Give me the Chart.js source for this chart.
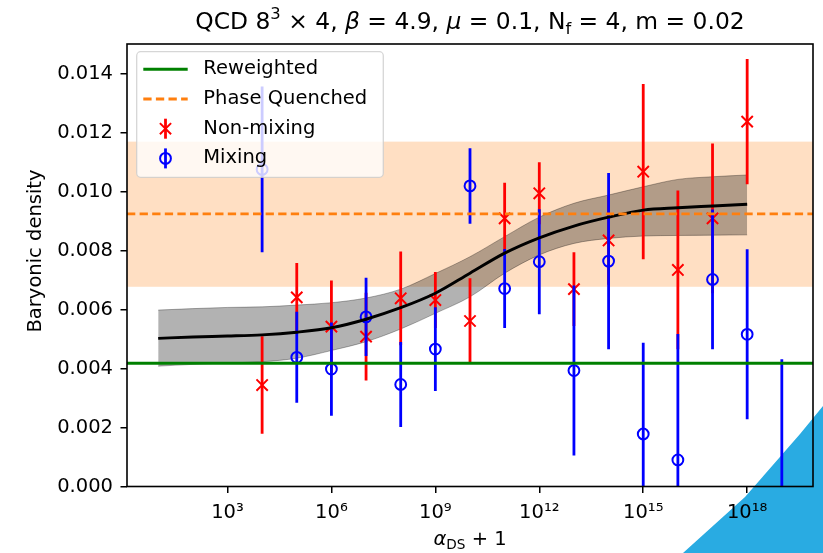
<!DOCTYPE html>
<html lang="en">
<head>
<meta charset="UTF-8" />
<title>Baryonic density</title>
<script src="https://cdn.jsdelivr.net/npm/chart.js"></script>
<style>
    body { margin: 0; background: #fff; }
    .wrap { position: relative; width: 823px; height: 553px; }
    .corner {
        position: absolute; left: 0; top: 0; width: 823px; height: 553px;
        background: #29abe2;
        clip-path: polygon(683px 553px, 745px 497px, 800px 434px, 823px 406px, 823px 553px);
    }
    canvas { position: relative; }
</style>
</head>
<body>
<div class="wrap">
    <div class="corner"></div>
    <canvas id="chart" width="823" height="553"></canvas>
</div>

<script>
    // axis limits (alpha_DS + 1, log scale) and ticks
    const xMin = Math.pow(10, 0.1);
    const xMax = Math.pow(10, 19.9);
    const xTicks = [1e3, 1e6, 1e9, 1e12, 1e15, 1e18];
    const yTicks = [0, 0.002, 0.004, 0.006, 0.008, 0.010, 0.012, 0.014];

    // Non-mixing (red x)
    const nmX = [1e4, 1e5, 1e6, 1e7, 1e8, 1e9, 1e10, 1e11, 1e12, 1e13, 1e14, 1e15, 1e16, 1e17, 1e18];
    const nmY = [0.00344, 0.00641, 0.00542, 0.00508, 0.00638, 0.00632, 0.00561, 0.00909, 0.00994, 0.00669, 0.00834, 0.01067, 0.00734, 0.00909, 0.01237];
    const nmErr = [0.00165, 0.00117, 0.00156, 0.00149, 0.00159, 0.00095, 0.00145, 0.00121, 0.00105, 0.00125, 0.0015, 0.00297, 0.00269, 0.00254, 0.00212];

    // Mixing (blue o)
    const mxX = [1e4, 1e5, 1e6, 1e7, 1e8, 1e9, 1e10, 1e11, 1e12, 1e13, 1e14, 1e15, 1e16, 1e17, 1e18, 1e19];
    const mxY = [0.01075, 0.00438, 0.00398, 0.00575, 0.00346, 0.00466, 0.01019, 0.00671, 0.00762, 0.00393, 0.00764, 0.00178, 0.00090, 0.00702, 0.00516, -0.0004];
    const mxErr = [0.00281, 0.00154, 0.00158, 0.00133, 0.00144, 0.00142, 0.00128, 0.00134, 0.00178, 0.00288, 0.00299, 0.00309, 0.00427, 0.00237, 0.00288, 0.00471];

    // fit curve with its band
    const fitX = [1e1, 1e2, 1e3, 1e4, 1e5, 1e6, 1e7, 1e8, 1e9, 1e10, 1e11, 1e12, 1e13, 1e14, 1e15, 1e16, 1e17, 1e18];
    const fitY = [0.00502, 0.00507, 0.0051, 0.00514, 0.00523, 0.00538, 0.00567, 0.00606, 0.00655, 0.00723, 0.00791, 0.00843, 0.00883, 0.00913, 0.00937, 0.00945, 0.00951, 0.00957];
    const fitLo = [0.00408, 0.00414, 0.00419, 0.00423, 0.00435, 0.00461, 0.00491, 0.00534, 0.00587, 0.00643, 0.00723, 0.00785, 0.00824, 0.00841, 0.00849, 0.00851, 0.00852, 0.00853];
    const fitHi = [0.00598, 0.00603, 0.00607, 0.00609, 0.00615, 0.00623, 0.00639, 0.00669, 0.00722, 0.00779, 0.00847, 0.00913, 0.0096, 0.00988, 0.01016, 0.01041, 0.0105, 0.01056];

    // horizontal references
    const reweighted = 0.00418;
    const phaseQuenched = 0.00924;
    const pqLow = 0.00677;
    const pqHigh = 0.01169;

    const legendLabels = ['Reweighted', 'Phase Quenched', 'Non-mixing', 'Mixing'];

    const FONT = 'DejaVu Sans';
    Chart.defaults.font.family = FONT;
    Chart.defaults.color = '#000';

    const pairs = (xs, ys) => xs.map((x, i) => ({ x: x, y: ys[i] }));
    const supDigits = { '0': '⁰', '1': '¹', '2': '²', '3': '³', '4': '⁴', '5': '⁵', '6': '⁶', '7': '⁷', '8': '⁸', '9': '⁹' };

    // draws text pieces with italic / sub / sup parts, centred on x
    function drawRich(ctx, parts, x, y, size) {
        const fontOf = k => (k === 'i' ? 'italic ' : '') + ((k === 'sup' || k === 'sub') ? size * 0.7 : size) + 'px "' + FONT + '"';
        let w = 0;
        parts.forEach(([t, k]) => { ctx.font = fontOf(k); w += ctx.measureText(t).width; });
        let cx = x - w / 2;
        ctx.textAlign = 'left';
        ctx.textBaseline = 'alphabetic';
        parts.forEach(([t, k]) => {
            ctx.font = fontOf(k);
            const dy = k === 'sup' ? -size * 0.42 : (k === 'sub' ? size * 0.22 : 0);
            ctx.fillText(t, cx, y + dy);
            cx += ctx.measureText(t).width;
        });
    }

    const pqBand = {
        id: 'pqBand',
        beforeDatasetsDraw(chart) {
            const { ctx, chartArea: a, scales: { y } } = chart;
            const top = y.getPixelForValue(pqHigh), bot = y.getPixelForValue(pqLow);
            ctx.save();
            ctx.fillStyle = 'rgba(255,127,14,0.25)';
            ctx.fillRect(a.left, top, a.right - a.left, bot - top);
            ctx.restore();
        }
    };

    const errorBars = {
        id: 'errorBars',
        beforeDatasetDraw(chart, args) {
            const ds = chart.data.datasets[args.index];
            if (!ds.errors) return;
            const { ctx, chartArea: a, scales: { y } } = chart;
            ctx.save();
            ctx.beginPath();
            ctx.rect(a.left, a.top, a.right - a.left, a.bottom - a.top);
            ctx.clip();
            ctx.strokeStyle = ds.borderColor;
            ctx.lineWidth = 2.8;
            args.meta.data.forEach((pt, i) => {
                const v = ds.data[i].y, e = ds.errors[i];
                ctx.beginPath();
                ctx.moveTo(pt.x, y.getPixelForValue(v + e));
                ctx.lineTo(pt.x, y.getPixelForValue(v - e));
                ctx.stroke();
            });
            ctx.restore();
        }
    };

    const frameAndText = {
        id: 'frameAndText',
        afterDatasetsDraw(chart) {
            const { ctx, chartArea: a } = chart;
            ctx.save();
            ctx.strokeStyle = '#000';
            ctx.lineWidth = 1.6;
            ctx.strokeRect(a.left, a.top, a.right - a.left, a.bottom - a.top);
            ctx.restore();
        },
        afterDraw(chart) {
            const { ctx, chartArea: a } = chart;
            const mid = (a.left + a.right) / 2;
            ctx.save();
            ctx.fillStyle = '#000';
            drawRich(ctx, [['QCD 8', ''], ['3', 'sup'], [' × 4, ', ''], ['β', 'i'], [' = 4.9, ', ''], ['μ', 'i'],
                [' = 0.1, N', ''], ['f', 'sub'], [' = 4, m = 0.02', '']], mid, 29, 23.4);
            drawRich(ctx, [['α', 'i'], ['DS', 'sub'], [' + 1', '']], mid, 545, 19.5);
            ctx.translate(34, 251);
            ctx.rotate(-Math.PI / 2);
            drawRich(ctx, [['Baryonic density', '']], 0, 7, 19.5);
            ctx.restore();

            // legend
            const x0 = 136.7, y0 = 51.7, w = 246.6, h = 125.6, r = 4;
            ctx.save();
            ctx.beginPath();
            ctx.roundRect(x0, y0, w, h, r);
            ctx.fillStyle = 'rgba(255,255,255,0.8)';
            ctx.fill();
            ctx.strokeStyle = 'rgba(204,204,204,0.8)';
            ctx.lineWidth = 1.3;
            ctx.stroke();

            const rows = [69.3, 99.0, 128.7, 158.4];
            const hx0 = 143.3, hx1 = 187.7, hm = 165.5;
            ctx.lineWidth = 2.9;
            ctx.strokeStyle = '#008000';
            ctx.beginPath(); ctx.moveTo(hx0, rows[0]); ctx.lineTo(hx1, rows[0]); ctx.stroke();
            ctx.strokeStyle = '#ff7f0e';
            ctx.setLineDash([8.3, 4.3]);
            ctx.beginPath(); ctx.moveTo(hx0, rows[1]); ctx.lineTo(hx1, rows[1]); ctx.stroke();
            ctx.setLineDash([]);
            ctx.strokeStyle = '#ff0000';
            ctx.lineWidth = 2.8;
            ctx.beginPath(); ctx.moveTo(hm, rows[2] - 10); ctx.lineTo(hm, rows[2] + 10); ctx.stroke();
            ctx.lineWidth = 2;
            ctx.beginPath();
            ctx.moveTo(hm - 5.6, rows[2] - 5.6); ctx.lineTo(hm + 5.6, rows[2] + 5.6);
            ctx.moveTo(hm - 5.6, rows[2] + 5.6); ctx.lineTo(hm + 5.6, rows[2] - 5.6);
            ctx.stroke();
            ctx.strokeStyle = '#0000ff';
            ctx.lineWidth = 2.8;
            ctx.beginPath(); ctx.moveTo(hm, rows[3] - 10); ctx.lineTo(hm, rows[3] + 10); ctx.stroke();
            ctx.lineWidth = 2;
            ctx.beginPath(); ctx.arc(hm, rows[3], 5.4, 0, Math.PI * 2); ctx.stroke();

            ctx.fillStyle = '#000';
            ctx.font = '19.5px "' + FONT + '"';
            ctx.textAlign = 'left';
            ctx.textBaseline = 'middle';
            legendLabels.forEach((t, i) => ctx.fillText(t, 203.3, rows[i]));
            ctx.restore();
        }
    };

    new Chart(document.getElementById('chart'), {
        type: 'line',
        data: {
            datasets: [
                {
                    label: 'band low', data: pairs(fitX, fitLo),
                    borderColor: 'rgba(0,0,0,0.3)', borderWidth: 1, pointRadius: 0,
                    fill: false, cubicInterpolationMode: 'monotone', order: 6
                },
                {
                    label: 'band high', data: pairs(fitX, fitHi),
                    borderColor: 'rgba(0,0,0,0.3)', backgroundColor: 'rgba(0,0,0,0.3)', borderWidth: 1, pointRadius: 0,
                    fill: '-1', cubicInterpolationMode: 'monotone', order: 5
                },
                {
                    label: 'Non-mixing', data: pairs(nmX, nmY), errors: nmErr,
                    showLine: false, pointStyle: 'crossRot', pointRadius: 8, pointBorderWidth: 2,
                    borderColor: '#ff0000', pointBorderColor: '#ff0000', pointBackgroundColor: '#ff0000',
                    clip: 0, order: 4
                },
                {
                    label: 'Mixing', data: pairs(mxX, mxY), errors: mxErr,
                    showLine: false, pointStyle: 'circle', pointRadius: 5.4, pointBorderWidth: 2,
                    borderColor: '#0000ff', pointBorderColor: '#0000ff', pointBackgroundColor: 'rgba(0,0,0,0)',
                    clip: 0, order: 3
                },
                {
                    label: 'fit', data: pairs(fitX, fitY),
                    borderColor: '#000', borderWidth: 2.9, pointRadius: 0,
                    fill: false, cubicInterpolationMode: 'monotone', order: 2
                },
                {
                    label: 'Reweighted', data: [{ x: xMin, y: reweighted }, { x: xMax, y: reweighted }],
                    borderColor: '#008000', borderWidth: 2.9, pointRadius: 0, fill: false, order: 1
                },
                {
                    label: 'Phase Quenched', data: [{ x: xMin, y: phaseQuenched }, { x: xMax, y: phaseQuenched }],
                    borderColor: '#ff7f0e', borderWidth: 2.9, borderDash: [8.3, 4.3], pointRadius: 0, fill: false, order: 0
                }
            ]
        },
        options: {
            responsive: false,
            animation: false,
            layout: { padding: { top: 44, right: 10, left: 0, bottom: 0 } },
            plugins: {
                legend: { display: false },
                tooltip: { enabled: false }
            },
            scales: {
                x: {
                    type: 'logarithmic',
                    min: xMin,
                    max: xMax,
                    afterBuildTicks: s => { s.ticks = xTicks.map(v => ({ value: v })); },
                    afterFit: s => { s.height = 66.5; },
                    ticks: {
                        autoSkip: false, maxRotation: 0, padding: 8,
                        font: { size: 19.5 },
                        callback: v => '10' + String(Math.round(Math.log10(v))).split('').map(c => supDigits[c]).join('')
                    },
                    grid: { drawOnChartArea: false, drawTicks: true, tickLength: 6.5, color: '#000', lineWidth: 1.5 },
                    border: { display: false }
                },
                y: {
                    min: 0,
                    max: 0.015,
                    afterBuildTicks: s => { s.ticks = yTicks.map(v => ({ value: v })); },
                    afterFit: s => { s.width = 127; },
                    ticks: {
                        padding: 7.5,
                        font: { size: 19.5 },
                        callback: v => v.toFixed(3)
                    },
                    grid: { drawOnChartArea: false, drawTicks: true, tickLength: 6.5, color: '#000', lineWidth: 1.5 },
                    border: { display: false }
                }
            }
        },
        plugins: [pqBand, errorBars, frameAndText]
    });
</script>
</body>
</html>
